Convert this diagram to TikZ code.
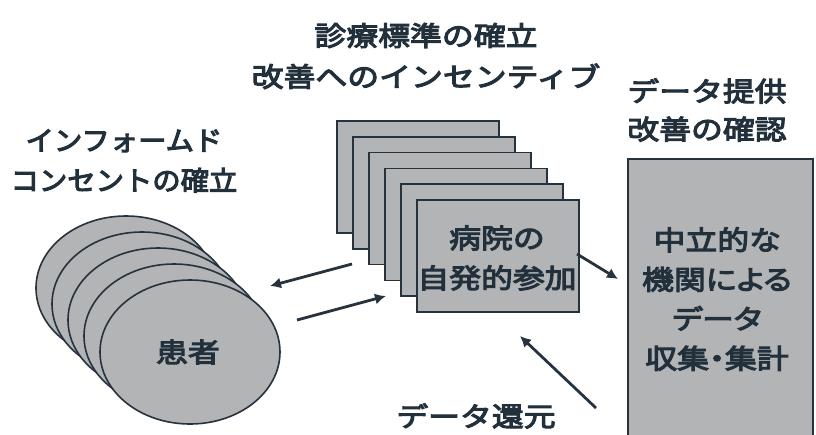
\documentclass[tikz,border=0pt]{standalone}
\usepackage{fontspec}
\usetikzlibrary{shapes.geometric,arrows.meta}
\newfontfamily\jp[FakeStretch=1.18,FakeBold=4]{Noto Sans CJK JP}
\newfontfamily\jpn[FakeStretch=1.05,FakeBold=4]{Noto Sans CJK JP}
\newfontfamily\jpp[FakeStretch=1.18,FakeBold=4,RawFeature=+palt]{Noto Sans CJK JP}
\definecolor{ink}{HTML}{26323E}
\definecolor{txt}{HTML}{22303C}
\definecolor{fillg}{HTML}{B2B4B6}
\tikzset{
  disk/.style={ellipse, draw=ink, line width=1.6pt, fill=fillg, minimum width=180pt, minimum height=144pt, inner sep=0pt},
  sheet/.style={rectangle, draw=ink, line width=1.6pt, fill=fillg, minimum width=162pt, minimum height=112pt, inner sep=0pt},
  lbl/.style={text=txt, font=\jp\fontsize{27}{40}\selectfont, align=center, inner sep=0pt},
  arr/.style={draw=ink, line width=2.8pt, -{Latex[length=11pt,width=11pt]}}
}
\begin{document}
\begin{tikzpicture}[x=1pt,y=-1pt]
\useasboundingbox (0,0) rectangle (816,434);
% patient disks
\foreach \k in {4,3,2,1} {
  \node[disk] (d\k) at ({190-16*\k},{352-16*\k}) {};
}
\node[disk] (d0) at (190,352) {};
\node[lbl] (kanja) at (188,352) {患者};
% hospital sheets
\foreach \k in {5,4,3,2,1} {
  \node[sheet] (s\k) at ({498-16*\k},{256-15.8*\k}) {};
}
\node[sheet] (s0) at (498,256) {};
\node[lbl] (byoin) at (497,258) {病院の\\自発的参加};
% neutral organization box
\node[rectangle, draw=ink, line width=1.6pt, fill=fillg, minimum width=185pt, minimum height=285pt, anchor=north west, inner sep=0pt] (org) at (627,158) {};
\node[lbl, font=\jpp\fontsize{27}{39.5}\selectfont] (orgtext) at (717,299) {中立的な\\機関による\\データ\\収集・集計};
% titles
\node[lbl, font=\jp\fontsize{27}{41}\selectfont] (t1) at (426,56) {診療標準の確立\\改善へのインセンティブ};
\node[lbl, font=\jp\fontsize{27}{38}\selectfont] (t2) at (707,110) {データ提供\\改善の確認};
\node[lbl, font=\jpn\fontsize{27}{40}\selectfont] (t3) at (124,161) {インフォームド\\コンセントの確立};
\node[lbl] (kangen) at (476,416) {データ還元};
% arrows
\coordinate (a1s) at (352,264);
\coordinate (a1e) at (270,286);
\coordinate (a2s) at (297,320);
\coordinate (a2e) at (386,296);
\coordinate (a3s) at (577,254);
\coordinate (a3e) at (618,279);
\coordinate (a4s) at (596,408);
\coordinate (a4e) at (520,336);
\draw[arr] (a1s) -- (a1e);
\draw[arr] (a2s) -- (a2e);
\draw[arr] (a3s) -- (a3e);
\draw[arr] (a4s) -- (a4e);
\end{tikzpicture}
\end{document}
